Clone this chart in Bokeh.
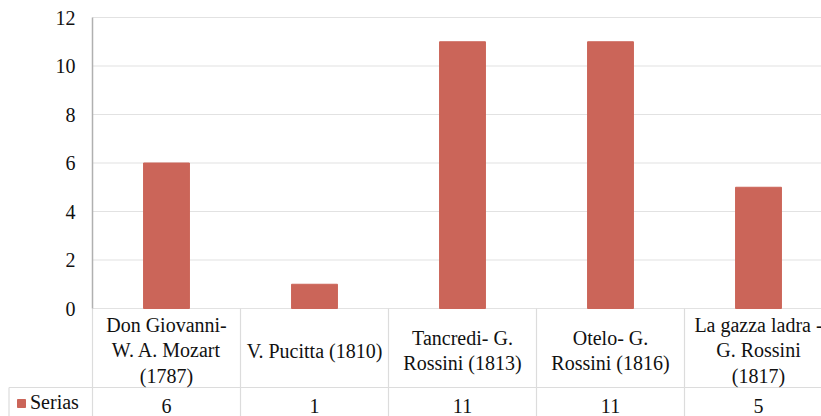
from bokeh.plotting import figure
from bokeh.models import Range1d, FixedTicker, Legend, LegendItem
from bokeh.core.properties import value
from bokeh.embed import file_html
from bokeh.resources import INLINE

# ---- data ----
categories = [
    "Don Giovanni-\nW. A. Mozart\n(1787)",
    "V. Pucitta (1810)",
    "Tancredi- G.\nRossini (1813)",
    "Otelo- G.\nRossini (1816)",
    "La gazza ladra -\nG. Rossini\n(1817)",
]
serias = [6, 1, 11, 11, 5]
value_labels = ["6", "1", "11", "11", "5"]
y_ticks = [0, 2, 4, 6, 8, 10, 12]
series_name = "Serias"

# ---- layout constants ----
W, H = 821, 416
PX_PER_CAT = 148.0
PX_PER_UNIT = 24.25
X0_PX = 92.0      # axis position from left canvas edge
Y0_PX = 308.0     # value 0 from top canvas edge

x_start = -0.5 - X0_PX / PX_PER_CAT
x_end = x_start + W / PX_PER_CAT
y_top = Y0_PX / PX_PER_UNIT
y_bot = -(H - Y0_PX) / PX_PER_UNIT
row_border = -79.0 / PX_PER_UNIT
cat_center = -42.0 / PX_PER_UNIT
val_center = -97.0 / PX_PER_UNIT

FONT = "Liberation Serif"
BAR = "#CB6559"
GRID = "#E2E2E2"
CELL = "#DCDCDC"
AXIS = "#B0B0B0"

p = figure(width=W, height=H, output_backend="svg", toolbar_location=None,
           x_range=Range1d(x_start, x_end), y_range=Range1d(y_bot, y_top),
           x_axis_location=None, min_border=0, min_border_left=0,
           min_border_right=0, min_border_top=0, min_border_bottom=0)
p.outline_line_color = None
p.xgrid.visible = False
p.ygrid.visible = False
p.background_fill_color = "white"
p.border_fill_color = "white"

xs = list(range(len(serias)))

# gridlines (from axis to right edge)
p.segment(x0=[-0.5] * len(y_ticks), x1=[x_end] * len(y_ticks),
          y0=y_ticks, y1=y_ticks, line_color=GRID, line_width=1.2)

# table cell borders
bx = [i - 0.5 for i in range(len(serias) + 1)]
p.segment(x0=bx, x1=bx, y0=[0] * len(bx), y1=[y_bot] * len(bx),
          line_color=CELL, line_width=1.2)
left_edge = -0.5 - (X0_PX - 8.5) / PX_PER_CAT
p.segment(x0=[left_edge], x1=[left_edge],
          y0=[row_border], y1=[y_bot], line_color=CELL, line_width=1.2)
p.segment(x0=[left_edge], x1=[x_end], y0=[row_border], y1=[row_border],
          line_color=CELL, line_width=1.2)

bars = p.vbar(x=xs, top=serias, width=0.31, bottom=0,
              fill_color=BAR, line_color=BAR)

# category labels in the table
p.text(x=xs, y=[cat_center] * len(xs), text=categories,
       text_font=value(FONT), text_font_size="20px", text_color="#111111",
       text_align="center", text_baseline="middle", text_line_height=1.15)
# values row
p.text(x=xs, y=[val_center] * len(xs), text=value_labels,
       text_font=value(FONT), text_font_size="20px", text_color="#111111",
       text_align="center", text_baseline="middle")

# y axis at the category boundary
ax = p.yaxis[0]
ax.fixed_location = -0.5
ax.bounds = (0, 12)
ax.ticker = FixedTicker(ticks=y_ticks)
ax.axis_line_color = AXIS
ax.axis_line_width = 1.5
ax.major_tick_line_color = None
ax.minor_tick_line_color = None
ax.major_tick_out = 0
ax.major_tick_in = 0
ax.major_label_standoff = 17
ax.major_label_text_font = FONT
ax.major_label_text_font_size = "20px"
ax.major_label_text_color = "#111111"

legend = Legend(items=[LegendItem(label=series_name, renderers=[bars])],
                location=(16, 2), glyph_width=10, glyph_height=10,
                label_text_font=FONT, label_text_font_size="20px",
                label_text_color="#111111", label_standoff=4,
                padding=0, margin=0, spacing=0, border_line_color=None,
                background_fill_alpha=0, label_height=20)
p.add_layout(legend)

open("out.html", "w").write(file_html(p, INLINE))
